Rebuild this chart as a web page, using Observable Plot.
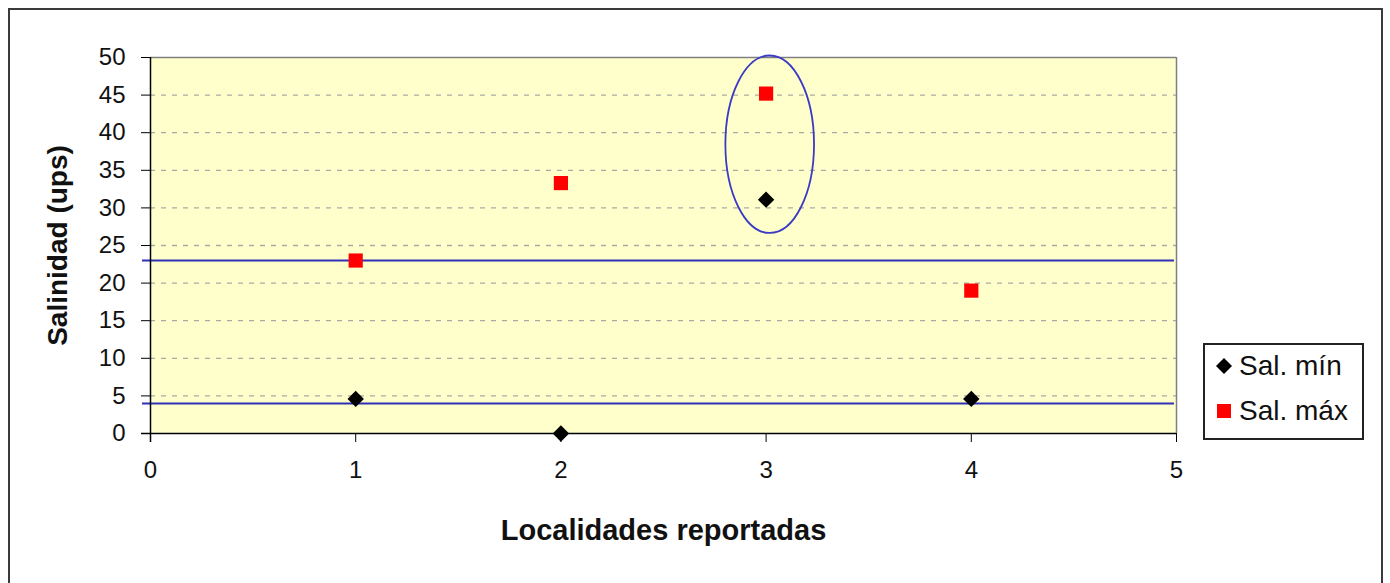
<!DOCTYPE html>
<html>
<head>
<meta charset="utf-8">
<script src="https://cdn.jsdelivr.net/npm/d3@7"></script>
<script src="https://cdn.jsdelivr.net/npm/@observablehq/plot@0.6"></script>
<style>
  html, body { margin: 0; padding: 0; background: #fff; overflow: hidden; }
  #wrap { position: relative; width: 1390px; height: 583px; font-family: "Liberation Sans", Arial, sans-serif; }
  #border { position: absolute; left: 8px; top: 8px; width: 1375px; height: 620px; border: 2px solid #3a3a3a; box-sizing: border-box; }
  #chart { position: absolute; left: 0; top: 0; }
  #legend { position: absolute; left: 1203px; top: 343px; width: 161px; height: 97px; border: 2px solid #222; box-sizing: border-box; background: #fff; }
  .item { position: absolute; left: 10px; display: flex; align-items: center; font-size: 28px; color: #111; }
  .item svg { margin-right: 6px; }
</style>
</head>
<body>
<div id="wrap">
  <div id="border"></div>
  <div id="chart"></div>
  <div id="legend"></div>
</div>
<script>
// Localidades y salinidades mínima y máxima (ups)
const localidades = [1, 2, 3, 4];
const salMin = [4.6, 0, 31.1, 4.6];
const salMax = [23, 33.3, 45.2, 19];
// Líneas de referencia horizontales
const referencias = [23, 4];
// Marcas de los ejes
const xTicks = [0, 1, 2, 3, 4, 5];
const yTicks = [0, 5, 10, 15, 20, 25, 30, 35, 40, 45, 50];
// Elipse que resalta la localidad 3 (centro y semiejes en unidades de datos)
const destacado = [{cx: 3.02, cy: 38.4, rx: 0.216, ry: 11.8}];
// Series de la leyenda
const series = ["Sal. mín", "Sal. máx"];

const puntosMin = localidades.map((l, i) => ({loc: l, sal: salMin[i]}));
const puntosMax = localidades.map((l, i) => ({loc: l, sal: salMax[i]}));

const azul = "#2f2fb8";

// Elipse dibujada con las escalas del gráfico
function elipse(index, {x, y}) {
  const g = d3.create("svg:g");
  for (const e of destacado) {
    g.append("ellipse")
      .attr("cx", x(e.cx))
      .attr("cy", y(e.cy))
      .attr("rx", x(e.cx + e.rx) - x(e.cx))
      .attr("ry", y(e.cy) - y(e.cy + e.ry))
      .attr("fill", "none")
      .attr("stroke", "#3b3bc4")
      .attr("stroke-width", 1.8);
  }
  return g.node();
}

const chart = Plot.plot({
  width: 1390,
  height: 583,
  marginLeft: 150,
  marginRight: 214,
  marginTop: 57,
  marginBottom: 150,
  style: {fontFamily: "'Liberation Sans', Arial, sans-serif", fontSize: "24px", background: "transparent", color: "#111"},
  x: {domain: [0, 5]},
  y: {domain: [0, 50]},
  marks: [
    Plot.frame({fill: "#ffffcc", stroke: null}),
    Plot.gridY(yTicks.filter(t => t > 0 && t < 50), {stroke: "#aaaaa2", strokeOpacity: 1, strokeDasharray: "5,6", strokeWidth: 1.3}),
    Plot.ruleY([50], {stroke: "#808080", strokeWidth: 1.5}),
    Plot.ruleX([5], {stroke: "#808080", strokeWidth: 1.5}),
    Plot.ruleY(referencias, {stroke: azul, strokeWidth: 2, insetLeft: -8, insetRight: 2}),
    Plot.ruleY([0], {stroke: "#000", strokeWidth: 1.5, insetLeft: -9}),
    Plot.ruleX([0], {stroke: "#000", strokeWidth: 1.5, insetBottom: -9}),
    Plot.axisY({ticks: yTicks, tickFormat: d3.format("d"), tickSize: 9, tickPadding: 16, stroke: "#000", label: null, fontSize: 24}),
    Plot.axisX({ticks: xTicks, tickFormat: d3.format("d"), tickSize: 9, tickPadding: 18, stroke: "#000", label: null, fontSize: 24}),
    Plot.text(["Localidades reportadas"], {text: d => d, frameAnchor: "bottom", dy: 97, fontWeight: "bold", fontSize: 29, textAnchor: "middle", lineAnchor: "middle", fill: "#111"}),
    Plot.text(["Salinidad (ups)"], {text: d => d, frameAnchor: "left", dx: -92, rotate: -90, fontWeight: "bold", fontSize: 28, textAnchor: "middle", lineAnchor: "middle", fill: "#111"}),
    Plot.dot(puntosMax, {x: "loc", y: "sal", symbol: "square", r: 8, fill: "#ff0000"}),
    Plot.dot(puntosMin, {x: "loc", y: "sal", symbol: "diamond2", r: 7.4, fill: "#000"}),
    elipse
  ]
});
document.getElementById("chart").appendChild(chart);

// Leyenda
const simbolos = [
  '<svg width="18" height="18"><path d="M9 1 L17 9 L9 17 L1 9 Z" fill="#000"/></svg>',
  '<svg width="18" height="18"><rect x="2" y="2" width="14" height="14" fill="#ff0000"/></svg>'
];
const legend = document.getElementById("legend");
series.forEach((s, i) => {
  const d = document.createElement("div");
  d.className = "item";
  d.style.top = (i === 0 ? 5 : 50) + "px";
  d.innerHTML = simbolos[i] + "<span>" + s + "</span>";
  legend.appendChild(d);
});
</script>
</body>
</html>
